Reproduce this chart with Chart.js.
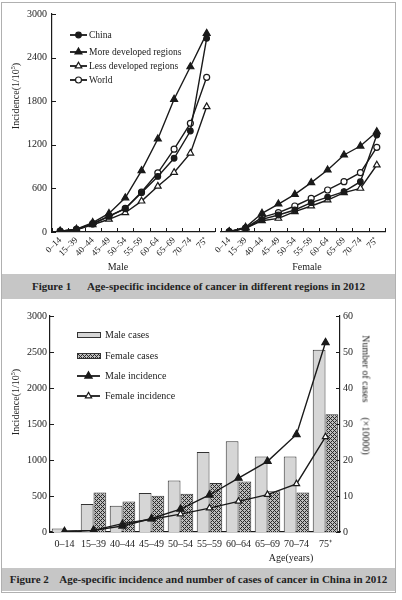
<!DOCTYPE html>
<html><head><meta charset="utf-8">
<script src="https://cdn.jsdelivr.net/npm/chart.js@4/dist/chart.umd.min.js"></script>
<style>
html,body{margin:0;padding:0;background:#fff;}
#wrap{position:relative;width:402px;height:600px;overflow:hidden;font-family:"Liberation Serif","Times New Roman",serif;color:#222;}
#frame{position:absolute;left:1px;top:2px;width:393px;height:589px;border:1px solid #b0b0b0;}
.band{position:absolute;left:2px;width:393px;background:#c6c6c6;font-weight:bold;font-size:11px;text-align:center;color:#222;white-space:pre;}
canvas{position:absolute;}
.t{position:absolute;font-size:10px;white-space:pre;transform-origin:center center;}
sup{font-size:6px;vertical-align:top;line-height:6px;}
</style></head>
<body>
<div id="wrap">
<div id="frame"></div>
<canvas id="c1m" width="220" height="275" style="left:0;top:0"></canvas>
<canvas id="c1f" width="190" height="275" style="left:205px;top:0"></canvas>
<div class="band" style="top:274px;height:25px;line-height:25px">Figure 1      Age-specific incidence of cancer in different regions in 2012</div>
<canvas id="c2" width="402" height="268" style="left:0;top:300px"></canvas>
<div class="band" style="top:568px;height:23px;line-height:23px">Figure 2    Age-specific incidence and number of cases of cancer in China in 2012</div>
<div class="t" id="t1" style="left:15px;top:96px;transform:translate(-50%,-50%) rotate(-90deg)">Incidence(1/10<sup>5</sup>)</div>
<div class="t" style="left:118px;top:266px;transform:translate(-50%,-50%)">Male</div>
<div class="t" style="left:307px;top:266px;transform:translate(-50%,-50%)">Female</div>
<div class="t" style="left:15px;top:402px;transform:translate(-50%,-50%) rotate(-90deg)">Incidence(1/10<sup>5</sup>)</div>
<div class="t" style="left:366px;top:395px;transform:translate(-50%,-50%) rotate(90deg)">Number of cases      (×10000)</div>
<div class="t" style="left:291px;top:557px;transform:translate(-50%,-50%)">Age(years)</div>
</div>
<script>
// ---------- data ----------
const ageGroups = ['0–14','15–39','40–44','45–49','50–54','55–59','60–64','65–69','70–74','75⁺'];
const fig1Ticks = [0, 600, 1200, 1800, 2400, 3000];

const maleChina   = [12, 35, 110, 215, 320, 540, 765, 1015, 1390, 2665];
const maleMoreDev = [12, 40, 130, 255, 470, 845, 1280, 1826, 2274, 2734];
const maleLessDev = [10, 30, 100, 175, 265, 425, 630, 820, 1085, 1724];
const maleWorld   = [12, 35, 115, 220, 325, 550, 815, 1140, 1495, 2129];

const femaleChina   = [5, 55, 175, 234, 303, 404, 480, 555, 692, 1335];
const femaleMoreDev = [5, 65, 257, 385, 518, 679, 853, 1060, 1183, 1380];
const femaleLessDev = [5, 50, 155, 188, 280, 358, 440, 541, 601, 922];
const femaleWorld   = [5, 55, 202, 266, 358, 463, 578, 692, 816, 1165];

const fig2LeftTicks  = [0, 500, 1000, 1500, 2000, 2500, 3000];
const fig2RightTicks = [0, 10, 20, 30, 40, 50, 60];
const maleCases   = [1.0, 7.8, 7.3, 10.8, 14.3, 22.2, 25.2, 21.0, 21.0, 50.6];
const femaleCases = [0.5, 11.0, 8.5, 10.1, 10.6, 13.6, 14.0, 11.3, 11.0, 32.7];
const maleIncidence   = [8, 23, 84, 187, 318, 514, 748, 981, 1355, 2631];
const femaleIncidence = [5, 23, 117, 178, 248, 332, 425, 519, 668, 1322];

// ---------- styling ----------
Chart.defaults.font.family = '"Liberation Serif","Times New Roman",serif';
Chart.defaults.color = '#222';
Chart.defaults.animation = false;
const INK = '#1a1a1a';
const plain = v => String(v);

function marker(ctx, shape, r, x, y, fill, stroke, bw) {
  ctx.save();
  ctx.beginPath();
  if (shape === 'triangle') {
    ctx.moveTo(x, y - r);
    ctx.lineTo(x + r * 0.866, y + r * 0.5);
    ctx.lineTo(x - r * 0.866, y + r * 0.5);
    ctx.closePath();
  } else if (shape === 'rect') {
    ctx.rect(x - r * 0.7, y - r * 0.7, r * 1.4, r * 1.4);
  } else {
    ctx.arc(x, y, r, 0, Math.PI * 2);
  }
  ctx.fillStyle = fill; ctx.fill();
  ctx.lineWidth = bw; ctx.strokeStyle = stroke; ctx.stroke();
  ctx.restore();
}

const sampleLegend = {
  id: 'sampleLegend',
  afterDraw(chart, args, o) {
    if (!o || !o.rows) return;
    const ctx = chart.ctx;
    ctx.save();
    ctx.font = o.font;
    ctx.textBaseline = 'middle';
    chart.data.datasets.forEach((ds, i) => {
      const y = o.rows[i];
      if (ds.type === 'bar') {
        ctx.fillStyle = ds.backgroundColor;
        ctx.fillRect(o.x0, y - 3, o.x1 - o.x0, 6);
        ctx.strokeStyle = ds.borderColor; ctx.lineWidth = 1;
        ctx.strokeRect(o.x0 + 0.5, y - 2.5, o.x1 - o.x0, 5);
      } else {
        ctx.strokeStyle = ds.borderColor; ctx.lineWidth = ds.borderWidth + 0.4;
        ctx.beginPath(); ctx.moveTo(o.x0, y); ctx.lineTo(o.x1, y); ctx.stroke();
        marker(ctx, ds.pointStyle, ds.pointRadius, (o.x0 + o.x1) / 2, y,
               ds.pointBackgroundColor, ds.pointBorderColor, ds.pointBorderWidth);
      }
      ctx.fillStyle = INK;
      ctx.fillText(ds.label, o.tx, y + 0.5);
    });
    ctx.restore();
  }
};

const innerTicks = {
  id: 'innerTicks',
  afterDraw(chart, args, o) {
    if (!o || !o.items) return;
    const ctx = chart.ctx;
    ctx.save(); ctx.strokeStyle = INK; ctx.lineWidth = 1;
    o.items.forEach(it => {
      const s = chart.scales[it.id];
      if (it.kind === 'y') {
        s.ticks.forEach(t => {
          const y = Math.round(s.getPixelForValue(t.value)) + 0.5;
          const x = it.side === 'left' ? chart.chartArea.left : chart.chartArea.right;
          ctx.beginPath(); ctx.moveTo(x, y);
          ctx.lineTo(it.side === 'left' ? x + it.len : x - it.len, y); ctx.stroke();
        });
      } else {
        const n = s.ticks.length;
        for (let k = 0; k <= n; k++) {
          const x = Math.round(s.left + (s.right - s.left) * k / n) + 0.5;
          ctx.beginPath(); ctx.moveTo(x, s.top); ctx.lineTo(x, s.top - it.len); ctx.stroke();
        }
      }
    });
    ctx.restore();
  }
};

const styles = {
  china:   {shape: 'circle',   r: 2.8, open: false},
  moreDev: {shape: 'triangle', r: 4,   open: false},
  lessDev: {shape: 'triangle', r: 3.8, open: true},
  world:   {shape: 'circle',   r: 3,   open: true}
};
function lineSet(label, data, st, axis) {
  return {
    type: 'line', label, data, yAxisID: axis || 'y',
    borderColor: INK, borderWidth: 1.4, tension: 0, fill: false,
    pointStyle: st.shape, pointRadius: st.r, pointBorderWidth: 1.2,
    pointBackgroundColor: st.open ? '#fff' : INK, pointBorderColor: INK,
    order: 1
  };
}

function fig1Options(showY, padL, padR, legend) {
  return {
    responsive: false, devicePixelRatio: 1, animation: false,
    layout: {padding: {left: padL, right: padR, top: 14, bottom: 0}},
    plugins: {
      legend: {display: false}, tooltip: {enabled: false},
      sampleLegend: legend || false,
      innerTicks: {items: showY ? [{id: 'y', kind: 'y', side: 'left', len: 4}, {id: 'x', kind: 'x', len: 4}]
                                : [{id: 'x', kind: 'x', len: 4}]}
    },
    scales: {
      x: {
        type: 'category', offset: true,
        grid: {display: false, drawTicks: false},
        border: {display: true, color: INK, width: 1.2},
        ticks: {minRotation: 45, maxRotation: 45, autoSkip: false, padding: 3, font: {size: 9}, color: '#222'},
        afterFit: s => { s.height = 43; }
      },
      y: {
        display: showY, min: 0, max: 3000,
        afterBuildTicks: s => { s.ticks = fig1Ticks.map(v => ({value: v})); },
        grid: {display: false, drawTicks: false},
        border: {display: true, color: INK, width: 1.2},
        ticks: {padding: 5, font: {size: 10}, color: '#222', callback: plain},
        afterFit: s => { s.width = showY ? 52 : 0; }
      }
    }
  };
}

new Chart(document.getElementById('c1m'), {
  type: 'line',
  data: {labels: ageGroups, datasets: [
    lineSet('China', maleChina, styles.china),
    lineSet('More developed regions', maleMoreDev, styles.moreDev),
    lineSet('Less developed regions', maleLessDev, styles.lessDev),
    lineSet('World', maleWorld, styles.world)
  ]},
  options: fig1Options(true, 0, 4, {rows: [35, 52, 66, 80], x0: 70, x1: 87, tx: 89, font: '9.5px "Liberation Serif"'}),
  plugins: [innerTicks, sampleLegend]
});

new Chart(document.getElementById('c1f'), {
  type: 'line',
  data: {labels: ageGroups, datasets: [
    lineSet('China', femaleChina, styles.china),
    lineSet('More developed regions', femaleMoreDev, styles.moreDev),
    lineSet('Less developed regions', femaleLessDev, styles.lessDev),
    lineSet('World', femaleWorld, styles.world)
  ]},
  options: fig1Options(false, 16, 10, false),
  plugins: [innerTicks, sampleLegend]
});

function hatch() {
  const c = document.createElement('canvas'); c.width = 4; c.height = 4;
  const x = c.getContext('2d');
  x.fillStyle = '#bdbdbd'; x.fillRect(0, 0, 4, 4);
  x.fillStyle = '#2a2a2a';
  for (let i = 0; i < 4; i++) for (let j = 0; j < 4; j++) {
    if ((i + j) % 4 === 0 || (i - j + 4) % 4 === 0) x.fillRect(i, j, 1, 1);
  }
  return x.createPattern(c, 'repeat');
}

new Chart(document.getElementById('c2'), {
  data: {labels: ageGroups, datasets: [
    {type: 'bar', label: 'Male cases', data: maleCases, yAxisID: 'y1',
     backgroundColor: '#d6d6d6', borderColor: '#333', borderWidth: 1,
     categoryPercentage: 0.88, barPercentage: 1.0, order: 2},
    {type: 'bar', label: 'Female cases', data: femaleCases, yAxisID: 'y1',
     backgroundColor: hatch(), borderColor: '#333', borderWidth: 1,
     categoryPercentage: 0.88, barPercentage: 1.0, order: 2},
    lineSet('Male incidence', maleIncidence, {shape: 'triangle', r: 4.2, open: false}),
    lineSet('Female incidence', femaleIncidence, {shape: 'triangle', r: 3.6, open: true})
  ]},
  options: {
    responsive: false, devicePixelRatio: 1, animation: false,
    layout: {padding: {left: 0, right: 7, top: 16, bottom: 0}},
    plugins: {
      legend: {display: false}, tooltip: {enabled: false},
      sampleLegend: {rows: [35, 56, 76, 96], x0: 77, x1: 100, tx: 105, font: '10px "Liberation Serif"'},
      innerTicks: {items: [{id: 'y', kind: 'y', side: 'left', len: 4}, {id: 'y1', kind: 'y', side: 'right', len: 4}]}
    },
    scales: {
      x: {
        type: 'category', offset: true,
        grid: {display: false, drawTicks: false},
        border: {display: true, color: INK, width: 1.2},
        ticks: {maxRotation: 0, minRotation: 0, autoSkip: false, padding: 6, font: {size: 10}, color: '#222'},
        afterFit: s => { s.height = 36; }
      },
      y: {
        position: 'left', min: 0, max: 3000,
        afterBuildTicks: s => { s.ticks = fig2LeftTicks.map(v => ({value: v})); },
        grid: {display: false, drawTicks: false},
        border: {display: true, color: INK, width: 1.2},
        ticks: {padding: 3, font: {size: 10}, color: '#222', callback: plain},
        afterFit: s => { s.width = 50; }
      },
      y1: {
        position: 'right', min: 0, max: 60,
        afterBuildTicks: s => { s.ticks = fig2RightTicks.map(v => ({value: v})); },
        grid: {display: false, drawTicks: false},
        border: {display: true, color: INK, width: 1.2},
        ticks: {padding: 3, font: {size: 10}, color: '#222', callback: plain},
        afterFit: s => { s.width = 55; }
      }
    }
  },
  plugins: [innerTicks, sampleLegend]
});
</script>
</body></html>
